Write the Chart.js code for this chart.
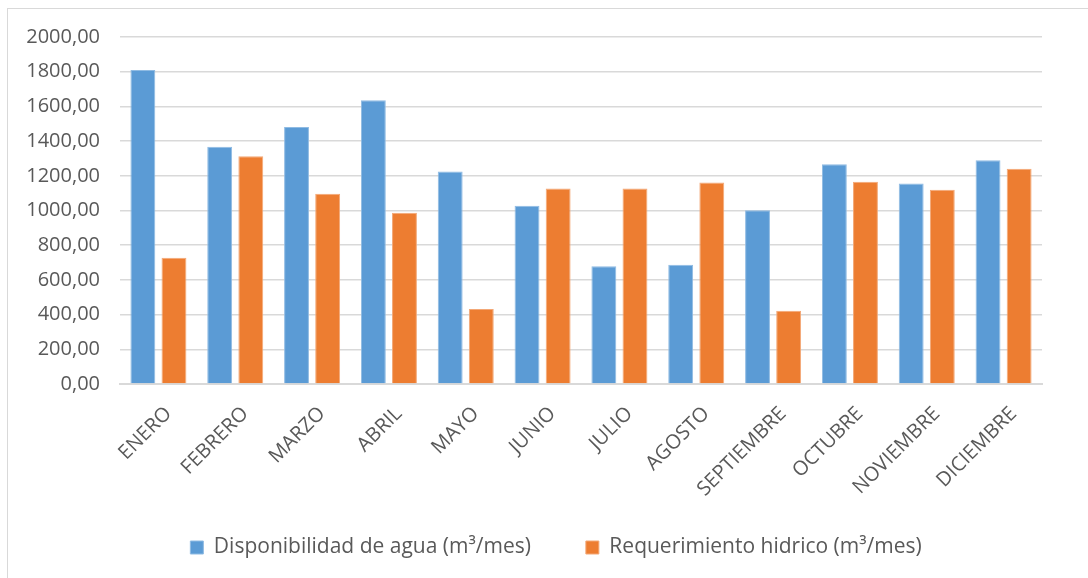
<!DOCTYPE html>
<html>
<head>
<meta charset="utf-8">
<script src="https://cdn.jsdelivr.net/npm/chart.js@4/dist/chart.umd.min.js"></script>
<style>
  html, body { margin: 0; padding: 0; background: #ffffff; }
  #wrap { position: relative; width: 1088px; height: 578px; overflow: hidden; }
  #frame { position: absolute; left: 7px; top: 8px; width: 1200px; height: 700px;
           border-left: 1px solid #d9d9d9; border-top: 1px solid #d9d9d9; pointer-events: none; }
  canvas { position: absolute; left: 0; top: 0; }
</style>
</head>
<body>
<div id="wrap">
  <div id="frame"></div>
  <canvas id="c" width="1088" height="578"></canvas>
</div>
<script>
const categories = ["ENERO", "FEBRERO", "MARZO", "ABRIL", "MAYO", "JUNIO", "JULIO", "AGOSTO", "SEPTIEMBRE", "OCTUBRE", "NOVIEMBRE", "DICIEMBRE"];
const disponibilidad = [1810, 1368, 1481, 1636, 1225, 1027, 678, 688, 1002, 1266, 1156, 1289];
const requerimiento = [727, 1312, 1096, 987, 432, 1127, 1127, 1162, 422, 1166, 1120, 1241];
const seriesNames = ["Disponibilidad de agua (m³/mes)", "Requerimiento hidrico (m³/mes)"];
const yMin = 0, yMax = 2000, yStep = 200;

const FONT = "'Open Sans', 'Noto Sans', sans-serif";
const TXT = "#595959";

// shift the legend block sideways (the original legend is centred on a wider frame)
const legendShift = {
  id: "legendShift",
  afterLayout(chart) {
    const lg = chart.legend;
    if (lg) { lg.left += 35; lg.right += 35; }
  }
};

new Chart(document.getElementById("c"), {
  type: "bar",
  data: {
    labels: categories,
    datasets: [
      { label: seriesNames[0], data: disponibilidad, backgroundColor: "#5b9bd5",
        borderColor: "#8fbbe3", borderWidth: 1 },
      { label: seriesNames[1], data: requerimiento, backgroundColor: "#ed7d31",
        borderColor: "#f3a877", borderWidth: 1 }
    ]
  },
  plugins: [legendShift],
  options: {
    responsive: false,
    animation: false,
    devicePixelRatio: 1,
    layout: { padding: { left: 0, right: 46, top: 37, bottom: 10 } },
    datasets: { bar: { categoryPercentage: 0.81, barPercentage: 0.8 } },
    plugins: {
      tooltip: { enabled: false },
      legend: {
        position: "bottom",
        labels: {
          color: TXT,
          font: { family: FONT, size: 21 },
          boxWidth: 13, boxHeight: 13,
          padding: 55
        }
      }
    },
    scales: {
      x: {
        grid: { display: false, drawTicks: false },
        border: { display: true, color: "#d9d9d9", width: 2 },
        ticks: { color: TXT, font: { family: FONT, size: 20 }, minRotation: 45, maxRotation: 45, autoSkip: false, padding: 18, labelOffset: 10 },
        afterFit: (s) => { s.height = 98; },
        afterUpdate: (s) => { s._computeLabelArea = () => null; }
      },
      y: {
        min: yMin, max: yMax,
        grid: { color: "#d9d9d9", lineWidth: 1.5, drawTicks: false },
        border: { display: false },
        ticks: {
          stepSize: yStep, color: TXT, font: { family: FONT, size: 20 }, padding: 20,
          callback: (v) => v.toFixed(2).replace(".", ",")
        },
        afterFit: (s) => { s.width = 120; }
      }
    }
  }
});
</script>
</body>
</html>
